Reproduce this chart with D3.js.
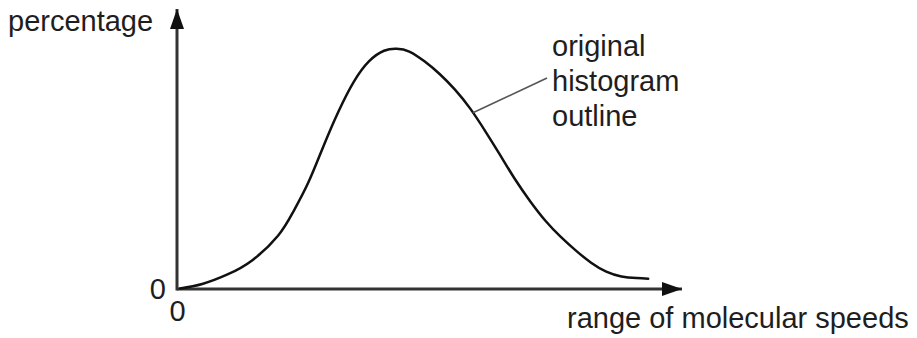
<!DOCTYPE html>
<html>
<head>
<meta charset="utf-8">
<script src="https://cdn.jsdelivr.net/npm/d3@7"></script>
<style>
  html, body { margin: 0; padding: 0; background: #fff; }
  svg text { font-family: "Liberation Sans", Arial, Helvetica, sans-serif; fill: #1e1e1e; }
</style>
</head>
<body>
<svg id="chart" width="917" height="338"></svg>
<script>
// Speed (arbitrary units along the axis) and percentage of molecules
const speeds = [0.06, 0.5, 1.0, 1.5, 2.0, 2.3, 2.6, 2.9, 3.2, 3.5, 3.8, 4.1, 4.35,
                4.6, 4.9, 5.2, 5.5, 5.8, 6.1, 6.4, 6.7, 7.0, 7.3, 7.6, 7.9, 8.2,
                8.5, 8.8, 9.1, 9.33];
const percentages = [0.2, 1.8, 5.2, 10.4, 19.0, 27.5, 38.0, 51.0, 63.5, 74.0, 81.3, 85.1, 85.8,
                     84.8, 81.3, 76.8, 71.3, 64.6, 56.5, 47.8, 39.0, 31.2, 24.3, 18.6, 13.7, 9.4,
                     6.2, 4.5, 3.9, 3.7];
const xTicks = [0];
const yTicks = [0];
const xTitle = "range of molecular speeds";
const yTitle = "percentage";
const curveLabel = ["original", "histogram", "outline"];
const labelSpeed = 5.86;   // where the leader line touches the curve

const svg = d3.select("#chart");
const font = 29;

const x = d3.scaleLinear().domain([0, 10]).range([177, 682]);
const y = d3.scaleLinear().domain([0, 100]).range([289, 9]);

// arrowheads
const defs = svg.append("defs");
defs.append("marker")
  .attr("id", "arrow")
  .attr("viewBox", "0 0 20 14")
  .attr("refX", 20).attr("refY", 7)
  .attr("markerUnits", "userSpaceOnUse")
  .attr("markerWidth", 20).attr("markerHeight", 14)
  .attr("orient", "auto")
  .append("path")
  .attr("d", "M0,0 L20,7 L0,14 Z")
  .attr("fill", "#111");

// axis lines
svg.append("line")
  .attr("x1", x(0)).attr("y1", y(0))
  .attr("x2", x(10)).attr("y2", y(0))
  .attr("stroke", "#333").attr("stroke-width", 3)
  .attr("marker-end", "url(#arrow)");
svg.append("line")
  .attr("x1", x(0)).attr("y1", y(0) + 1.5)
  .attr("x2", x(0)).attr("y2", y(100))
  .attr("stroke", "#333").attr("stroke-width", 3)
  .attr("marker-end", "url(#arrow)");

// zero tick labels
const xAxis = svg.append("g")
  .attr("transform", `translate(0,${y(0)})`)
  .call(d3.axisBottom(x).tickValues(xTicks).tickSize(0).tickPadding(11).tickFormat(d3.format("d")));
const yAxis = svg.append("g")
  .attr("transform", `translate(${x(0)},0)`)
  .call(d3.axisLeft(y).tickValues(yTicks).tickSize(0).tickPadding(11).tickFormat(d3.format("d")));
[xAxis, yAxis].forEach(g => {
  g.select(".domain").remove();
  g.selectAll("text").attr("font-size", font).attr("font-family", null).attr("fill", "#1e1e1e");
});

// distribution curve
const pts = speeds.map((s, i) => [s, percentages[i]]);
const line = d3.line()
  .x(d => x(d[0])).y(d => y(d[1]))
  .curve(d3.curveNatural);
svg.append("path")
  .datum(pts)
  .attr("d", line)
  .attr("fill", "none")
  .attr("stroke", "#111")
  .attr("stroke-width", 2.5)
  .attr("stroke-linecap", "round");

// axis titles
svg.append("text")
  .attr("x", 8).attr("y", 31)
  .attr("font-size", font)
  .text(yTitle);
svg.append("text")
  .attr("x", 567).attr("y", 328)
  .attr("font-size", font)
  .text(xTitle);

// curve label with leader line
const labelX = 552, labelTop = 56, lineGap = 35;
const interp = d3.scaleLinear().domain(speeds).range(percentages);
svg.append("line")
  .attr("x1", x(labelSpeed)).attr("y1", y(interp(labelSpeed)))
  .attr("x2", labelX - 5).attr("y2", labelTop + lineGap * 0.63)
  .attr("stroke", "#555").attr("stroke-width", 1.6);
svg.append("g").selectAll("text")
  .data(curveLabel)
  .join("text")
  .attr("x", labelX)
  .attr("y", (d, i) => labelTop + i * lineGap)
  .attr("font-size", font)
  .text(d => d);
</script>
</body>
</html>
